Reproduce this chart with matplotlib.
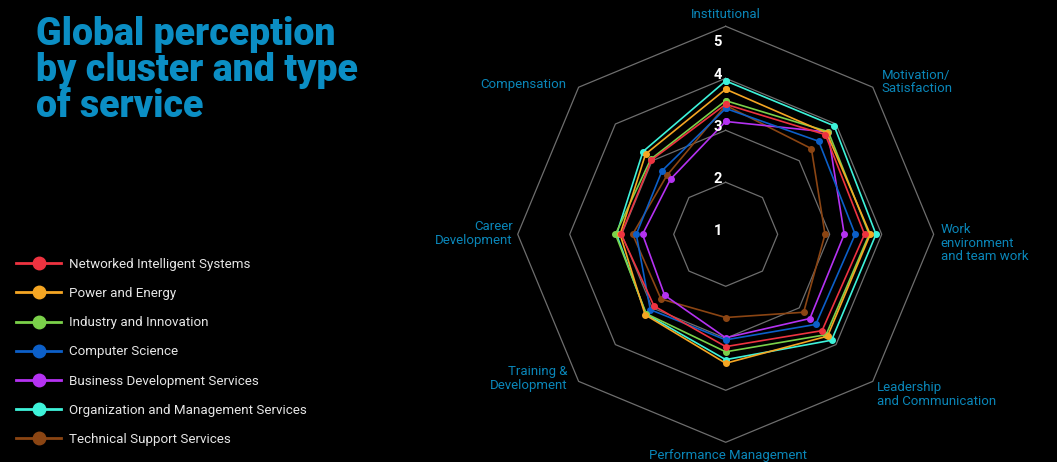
import numpy as np
import matplotlib.pyplot as plt
from matplotlib.lines import Line2D
from matplotlib import transforms

plt.rcParams['font.family'] = ['Roboto', 'DejaVu Sans']

# axes of the radar, clockwise from the top
categories = ['Institutional', 'Motivation/\nSatisfaction', 'Work\nenvironment\nand team work',
              'Leadership\nand Communication', 'Performance Management',
              'Training &\nDevelopment', 'Career\nDevelopment', 'Compensation']

series_names = ['Networked Intelligent Systems', 'Power and Energy', 'Industry and Innovation',
                'Computer Science', 'Business Development Services',
                'Organization and Management Services', 'Technical Support Services']

networked = [3.50, 3.71, 3.67, 3.62, 3.16, 2.95, 3.01, 3.02]
power = [3.79, 3.75, 3.78, 3.77, 3.48, 3.19, 3.03, 3.18]
industry = [3.57, 3.79, 3.76, 3.73, 3.26, 3.16, 3.12, 3.04]
computer = [3.42, 3.53, 3.49, 3.45, 3.03, 3.05, 2.72, 2.73]
business = [3.17, 3.78, 3.28, 3.29, 2.99, 2.66, 2.60, 2.50]
organization = [3.95, 3.95, 3.89, 3.88, 3.41, 3.17, 3.10, 3.25]
technical = [3.48, 3.33, 2.91, 3.12, 2.60, 2.76, 2.79, 2.60]

scale_ticks = [1, 2, 3, 4, 5]

all_series = [networked, power, industry, computer, business, organization, technical]
colors = ['#ee3340', '#f5a623', '#7bd14a', '#0c5fc8', '#b532f2', '#3ef3da', '#8b4513']

title_color = '#0b8ec4'
label_color = '#0a86b8'
grid_color = '#6e6e6e'

fig = plt.figure(figsize=(10.57, 4.62), dpi=100, facecolor='black')
ax = fig.add_axes([517.7 / 1057, 19.7 / 462, 416 / 1057, 416 / 462], projection='polar')
ax.set_facecolor('black')
ax.set_theta_zero_location('N')
ax.set_theta_direction(-1)
ax.set_ylim(scale_ticks[0], scale_ticks[-1])
ax.set_xticks([])
ax.set_yticks([])
ax.grid(False)
ax.spines['polar'].set_visible(False)

angles = np.linspace(0, 2 * np.pi, len(categories), endpoint=False)
closed = np.r_[angles, angles[0]]

# octagonal grid
for v in scale_ticks[1:]:
    ax.plot(closed, [v] * len(closed), color=grid_color, lw=0.9, zorder=1, clip_on=False)

# data
for vals, c in zip(all_series[::-1], colors[::-1]):
    ax.plot(closed, vals + vals[:1], color=c, lw=1.2, marker='o', markersize=4,
            zorder=3, clip_on=False)

# scale numbers along the top axis
shift = transforms.offset_copy(ax.transData, fig=fig, x=-8, y=3, units='dots')
for v in scale_ticks:
    ax.text(0, min(v, scale_ticks[-1] - 0.35), str(v), transform=shift, color='white',
            fontsize=10.5, fontweight='bold', ha='center', va='center', zorder=5)

# category labels
placements = [('center', 0, 12), ('left', 9, 5), ('left', 7, -9), ('left', 4, -13),
              ('center', 2, -13), ('right', -11, 3), ('right', -5, 1), ('right', -12, 3)]
for ang, lab, (ha, dx, dy) in zip(angles, categories, placements):
    ax.annotate(lab, xy=(ang, scale_ticks[-1]), xytext=(dx, dy), textcoords='offset pixels',
                ha=ha, va='center', color=label_color, fontsize=9.5, linespacing=1.05,
                multialignment=ha, annotation_clip=False)

fig.text(36 / 1057, 1 - 16 / 462, 'Global perception\nby cluster and type\nof service',
         ha='left', va='top', fontsize=27, fontweight='black', color=title_color,
         linespacing=0.97)

handles = [Line2D([0], [0], color=c, lw=2, marker='o', markersize=9) for c in colors]
fig.legend(handles, series_names, loc='upper left', bbox_to_anchor=(16 / 1057, (462 - 258) / 462),
           frameon=False, fontsize=9.6, handlelength=3.4, handletextpad=0.55,
           labelspacing=1.21, borderpad=0, borderaxespad=0, labelcolor='#e6e6e6')

fig.savefig('out.png', dpi=100, facecolor='black')
